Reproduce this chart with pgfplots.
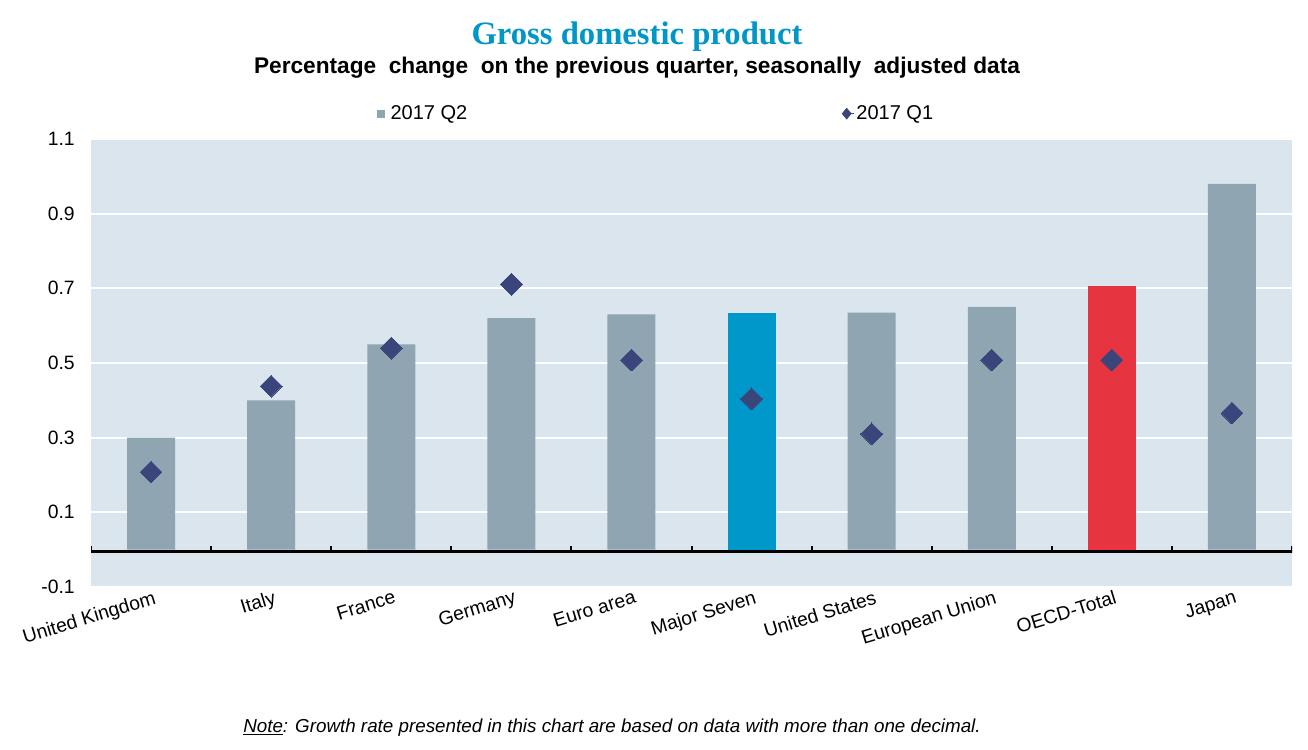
\documentclass[border=0pt]{standalone}
\usepackage{fontspec}
\setmainfont{Liberation Sans}
\newfontfamily\titlefont{Liberation Serif}
\usepackage{pgfplots}
\pgfplotsset{compat=1.18}

\definecolor{bgc}{RGB}{219,229,237}
\definecolor{barg}{RGB}{143,165,178}
\definecolor{mseven}{RGB}{0,152,202}
\definecolor{oecdred}{RGB}{230,52,64}
\definecolor{navy}{RGB}{57,69,123}
\definecolor{ttl}{RGB}{0,150,200}

\begin{document}
\begin{tikzpicture}
\path[use as bounding box] (0,0) rectangle (981pt,561.75pt);

\node[font=\titlefont\bfseries\fontsize{24.5}{28}\selectfont, text=ttl] at (477.75pt,534pt) {Gross domestic product};
\node[font=\bfseries\fontsize{17}{20}\selectfont] at (477.75pt,511pt) {Percentage\ \ change\ \ on the previous quarter, seasonally\ \ adjusted data};

\begin{axis}[
  at={(68.25pt,121.5pt)}, anchor=south west,
  scale only axis, width=900.75pt, height=336pt,
  xmin=-0.5, xmax=9.5, ymin=-0.1, ymax=1.1,
  xtick={0,...,9},
  xticklabels={United Kingdom,Italy,France,Germany,Euro area,Major Seven,United States,European Union,OECD-Total,Japan},
  ytick={-0.1,0.1,0.3,0.5,0.7,0.9,1.1},
  /pgf/number format/assume math mode=true,
  /pgf/number format/fixed,
  /pgf/number format/precision=1,
  /pgf/number format/fixed zerofill,
  y tick label style={font=\fontsize{14.5}{17}\selectfont, inner sep=0pt, anchor=east, xshift=-12pt},
  x tick label style={font=\fontsize{14.5}{17}\selectfont, rotate=17, anchor=north east, xshift=4pt, yshift=1pt},
  major tick length=0pt,
  axis line style={draw=none},
  ymajorgrids, grid style={white, line width=1.6pt},
  axis background/.style={fill=bgc},
  legend columns=2,
  legend style={draw=none, fill=none, inner sep=0pt, at={(0.2375,1)}, anchor=west, yshift=19pt,
    font=\fontsize{15}{18}\selectfont,
    /tikz/every even column/.append style={column sep=279pt}},
]
\addplot[ybar, bar width=36pt, bar shift=0pt, fill=barg, draw=none,
  legend image code/.code={\fill[barg] (0pt,-3pt) rectangle (6pt,3pt); \path (0pt,0pt) -- (8.5pt,0pt);}]
  coordinates {(0,0.30) (1,0.40) (2,0.55) (3,0.62) (4,0.63) (6,0.635) (7,0.65) (9,0.98)};
\addlegendentry{2017 Q2}
\addplot[ybar, bar width=36pt, bar shift=0pt, fill=mseven, draw=none, forget plot]
  coordinates {(5,0.635)};
\addplot[ybar, bar width=36pt, bar shift=0pt, fill=oecdred, draw=none, forget plot]
  coordinates {(8,0.705)};
\addplot[only marks, color=navy, mark=square*, mark size=5.8pt, mark options={rotate=45, fill=navy, draw=navy, line width=0pt},
  legend image code/.code={\fill[navy] (0pt,0pt) -- (3.4pt,4.1pt) -- (6.8pt,0pt) -- (3.4pt,-4.1pt) -- cycle; \path (0pt,0pt) -- (8.5pt,0pt);}]
  coordinates {(0,0.208) (1,0.438) (2,0.54) (3,0.711) (4,0.508) (5,0.404) (6,0.31) (7,0.508) (8,0.508) (9,0.366)};
\addlegendentry{2017 Q1}

\draw[black, line width=2.2pt] (axis cs:-0.52,-0.004) -- (axis cs:9.52,-0.004);
\pgfplotsinvokeforeach{-0.5,0.5,1.5,2.5,3.5,4.5,5.5,6.5,7.5,8.5,9.5}{
  \draw[black, line width=1.5pt] (axis cs:#1,-0.004) -- ++(0pt,4pt);
}
\end{axis}

\node[font=\itshape\fontsize{14.1}{17}\selectfont] at (459pt,16pt) {\underline{Note}: Growth rate presented in this chart are based on data with more than one decimal.};
\end{tikzpicture}
\end{document}
